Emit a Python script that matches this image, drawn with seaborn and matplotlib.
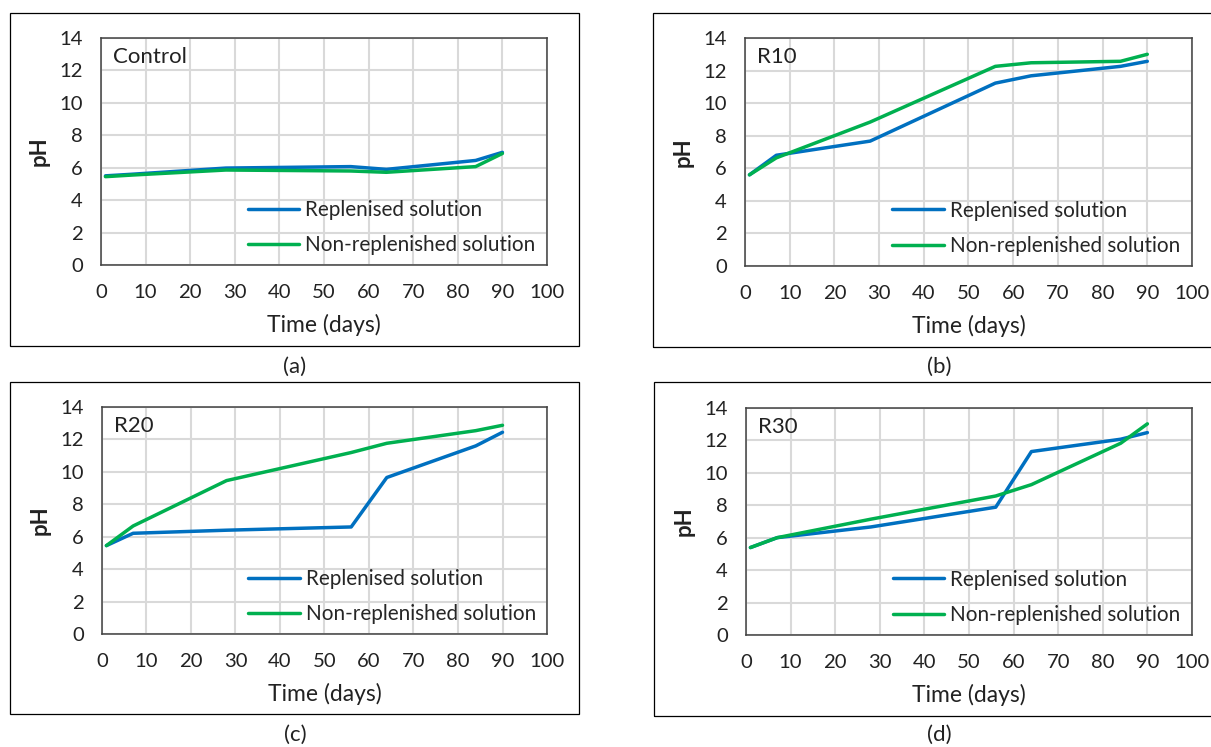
import pandas as pd
import seaborn as sns
import matplotlib.pyplot as plt
from matplotlib.patches import Rectangle

days = [1, 7, 28, 56, 64, 84, 90]

# pH
control_rep = [5.5, 5.6, 5.98, 6.07, 5.9, 6.45, 6.95]
control_non = [5.45, 5.55, 5.86, 5.8, 5.72, 6.07, 6.88]
r10_rep = [5.6, 6.8, 7.67, 11.23, 11.68, 12.26, 12.57]
r10_non = [5.6, 6.64, 8.84, 12.26, 12.48, 12.57, 13.0]
r20_rep = [5.45, 6.21, 6.4, 6.6, 9.65, 11.6, 12.44]
r20_non = [5.45, 6.66, 9.46, 11.19, 11.76, 12.54, 12.87]
r30_rep = [5.39, 6.0, 6.66, 7.88, 11.31, 12.07, 12.48]
r30_non = [5.39, 6.0, 7.14, 8.57, 9.27, 11.82, 13.02]

series_names = ["Replenised solution", "Non-replenished solution"]
panel_titles = ["Control", "R10", "R20", "R30"]
panel_tags = ["(a)", "(b)", "(c)", "(d)"]
panel_data = [(control_rep, control_non), (r10_rep, r10_non),
              (r20_rep, r20_non), (r30_rep, r30_non)]

sns.set_style("white")
plt.rcParams['font.family'] = ['Lato', 'DejaVu Sans']

fig = plt.figure(figsize=(12.11, 7.47), dpi=100)

# axes rectangles and outer frames, in figure fractions
ax_rects = [[0.0834, 0.6452, 0.3683, 0.3039],
            [0.6152, 0.6439, 0.3691, 0.3052],
            [0.0842, 0.1513, 0.3675, 0.3039],
            [0.6160, 0.1500, 0.3683, 0.3039]]
frames = [[0.0083, 0.5368, 0.470, 0.4458],
          [0.5392, 0.5355, 0.470, 0.4471],
          [0.0083, 0.0442, 0.470, 0.4444],
          [0.5400, 0.0415, 0.470, 0.4471]]
tag_pos = [(0.2436, 0.5087), (0.7754, 0.5087), (0.2436, 0.016), (0.7754, 0.016)]

palette = {series_names[0]: "#0070C0", series_names[1]: "#00B050"}

for i in range(4):
    rep, non = panel_data[i]
    df = pd.DataFrame({
        "day": days + days,
        "pH": rep + non,
        "series": [series_names[0]] * len(days) + [series_names[1]] * len(days),
    })
    ax = fig.add_axes(ax_rects[i])
    sns.lineplot(data=df, x="day", y="pH", hue="series", palette=palette,
                 linewidth=2.5, ax=ax, sort=False)
    ax.set_xlim(0, 100)
    ax.set_ylim(0, 14)
    ax.set_xticks(range(0, 101, 10))
    ax.set_yticks(range(0, 15, 2))
    ax.grid(True, color="#d9d9d9", linewidth=1.5)
    ax.set_axisbelow(True)
    for s in ax.spines.values():
        s.set_color("#404040")
        s.set_linewidth(1.1)
    ax.tick_params(axis="both", length=0, labelsize=14.6, labelcolor="#222222")
    ax.tick_params(axis="y", pad=13)
    ax.tick_params(axis="x", pad=14)
    ax.set_xlabel("Time (days)", fontsize=16.5, color="#222222")
    ax.set_ylabel("pH", fontsize=16, fontweight="bold", color="#222222")
    ax.xaxis.label.set_va("center")
    ax.yaxis.label.set_va("center")
    ax.xaxis.set_label_coords(0.5, -0.264)
    ax.yaxis.set_label_coords(-0.139, 0.5)
    ax.text(0.026, 0.918, panel_titles[i], transform=ax.transAxes,
            fontsize=16, va="center", ha="left", color="#222222")
    handles, labels = ax.get_legend_handles_labels()
    ax.legend(handles, labels, loc="center left", bbox_to_anchor=(0.31, 0.165),
              frameon=False, fontsize=14.9, handlelength=2.5, handletextpad=0.3,
              labelspacing=0.75, borderaxespad=0)

    fig.patches.append(Rectangle((frames[i][0], frames[i][1]), frames[i][2], frames[i][3],
                                 transform=fig.transFigure, fill=False,
                                 edgecolor="black", linewidth=0.9))
    fig.text(tag_pos[i][0], tag_pos[i][1], panel_tags[i], fontsize=16,
             ha="center", va="center", color="#222222")

plt.savefig("out.png", dpi=100)
